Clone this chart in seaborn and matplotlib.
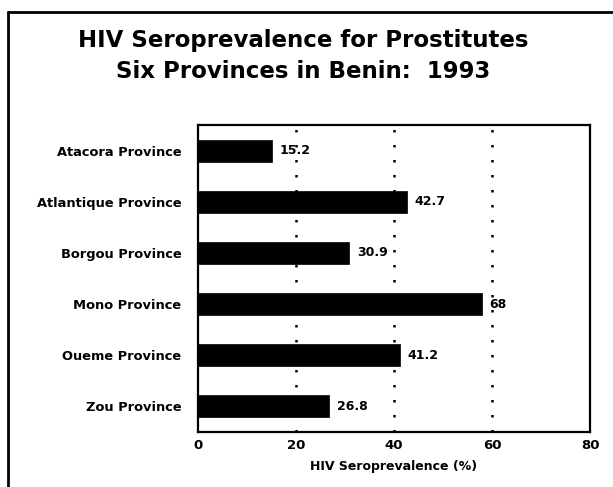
import matplotlib
matplotlib.use("Agg")
import matplotlib.pyplot as plt
import seaborn as sns
import pandas as pd
from matplotlib.lines import Line2D

provinces = ["Atacora Province", "Atlantique Province", "Borgou Province",
             "Mono Province", "Oueme Province", "Zou Province"]
values = [15.2, 42.7, 30.9, 58.0, 41.2, 26.8]
value_labels = ["15.2", "42.7", "30.9", "68", "41.2", "26.8"]
x_ticks = [0, 20, 40, 60, 80]
title_lines = ["HIV Seroprevalence for Prostitutes", "Six Provinces in Benin:  1993"]
x_label = "HIV Seroprevalence (%)"

sns.set_style("white")
plt.rcParams['font.family'] = ['DejaVu Sans']
plt.rcParams['text.color'] = 'black'
plt.rcParams['axes.labelcolor'] = 'black'
plt.rcParams['xtick.color'] = 'black'
plt.rcParams['ytick.color'] = 'black'

df = pd.DataFrame({"province": provinces, "value": values})

W, H = 613, 487
fig = plt.figure(figsize=(W / 100, H / 100), dpi=100)
ax = fig.add_axes([198 / W, 1 - 432 / H, (590 - 198) / W, (432 - 125) / H])

sns.barplot(data=df, x="value", y="province", color="black", width=0.43,
            ax=ax, saturation=1, edgecolor="black", linewidth=0.5)

ax.set_xlim(0, 80)
ax.set_ylim(len(provinces) - 0.5, -0.5)
ax.set_xticks(x_ticks)
ax.set_xticklabels([str(t) for t in x_ticks], fontsize=9.5, fontweight="bold")
ax.set_yticks(range(len(provinces)))
ax.set_yticklabels(provinces, fontsize=9.4, fontweight="bold")
ax.set_ylabel("")
ax.set_xlabel(x_label, fontsize=9, fontweight="bold", labelpad=6)
ax.tick_params(axis="both", length=0)
ax.tick_params(axis="y", pad=12)
ax.tick_params(axis="x", pad=5)

for gx in [20, 40, 60]:
    ax.axvline(gx, color="black", linestyle=(0, (1, 5)), linewidth=1.8, zorder=0)

for i, (v, lab) in enumerate(zip(values, value_labels)):
    ax.text(v + 1.5, i, lab, va="center", ha="left", fontsize=9, fontweight="bold")

for s in ax.spines.values():
    s.set_visible(True)
    s.set_color("black")
    s.set_linewidth(1.6)

fig.text(0.494, 1 - 41 / H, title_lines[0], ha="center", va="center", fontsize=16.5, fontweight="bold")
fig.text(0.494, 1 - 72 / H, title_lines[1], ha="center", va="center", fontsize=16.5, fontweight="bold")

# outer frame
fig.add_artist(Line2D([8 / W, 8 / W], [0, 1 - 12 / H], transform=fig.transFigure, color="black", lw=2))
fig.add_artist(Line2D([8 / W, 1], [1 - 12 / H, 1 - 12 / H], transform=fig.transFigure, color="black", lw=2))

fig.savefig("out.png", dpi=100)
